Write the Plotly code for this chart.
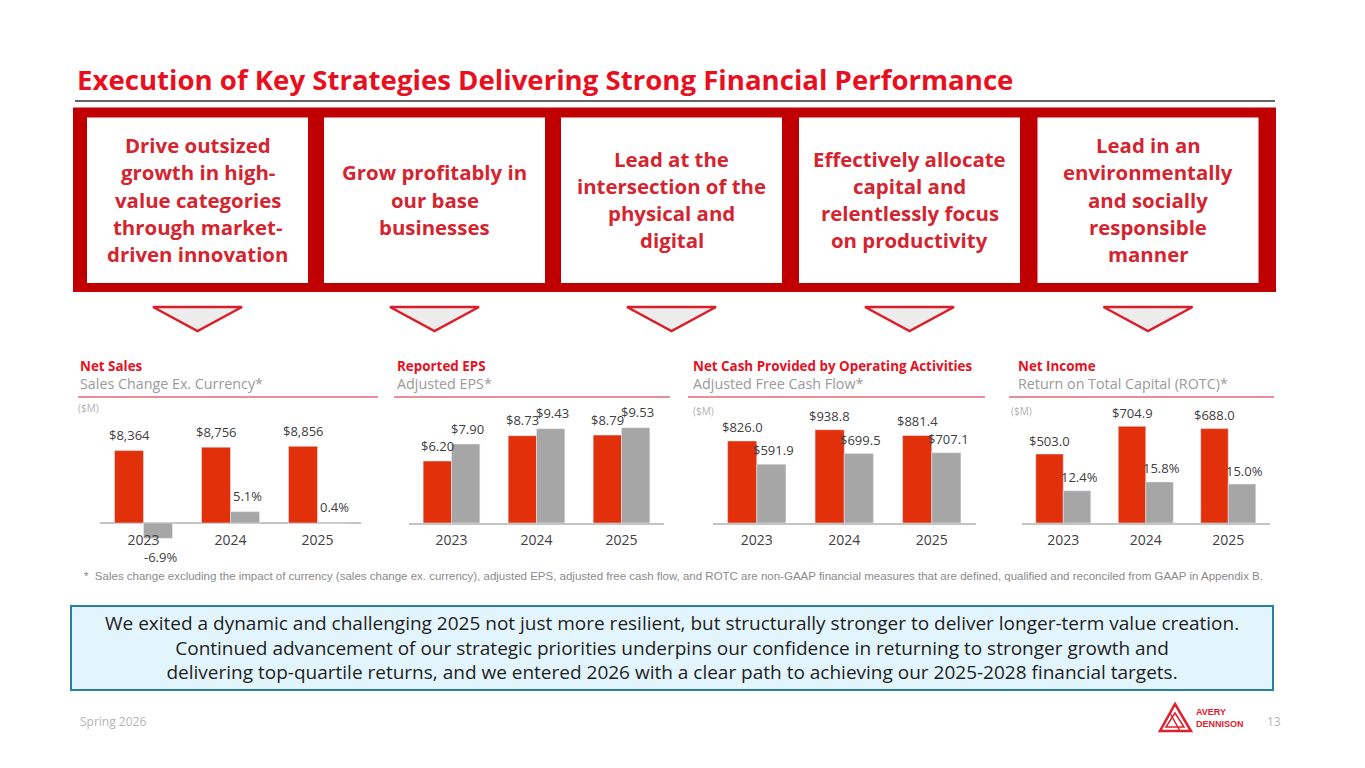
import plotly.graph_objects as go

W, H = 1365, 768
OFF = 8  # page body margin
def X(p): return (p - OFF) / W
def Y(p): return 1 - (p - OFF) / H

# ---------------- data ----------------
years = ["2023", "2024", "2025"]
net_sales = [8364, 8756, 8856]
sales_chg_ex_fx = [-6.9, 5.1, 0.4]
reported_eps = [6.20, 8.73, 8.79]
adjusted_eps = [7.90, 9.43, 9.53]
op_cash = [826.0, 938.8, 881.4]
adj_fcf = [591.9, 699.5, 707.1]
net_income = [503.0, 704.9, 688.0]
rotc = [12.4, 15.8, 15.0]

strategies = [
    ["Drive outsized", "growth in high-", "value categories", "through market-", "driven innovation"],
    ["Grow profitably in", "our base", "businesses"],
    ["Lead at the", "intersection of the", "physical and", "digital"],
    ["Effectively allocate", "capital and", "relentlessly focus", "on productivity"],
    ["Lead in an", "environmentally", "and socially", "responsible", "manner"],
]

title = "Execution of Key Strategies Delivering Strong Financial Performance"
footnote = ("*  Sales change excluding the impact of currency (sales change ex. currency), adjusted EPS, "
            "adjusted free cash flow, and ROTC are non-GAAP financial measures that are defined, "
            "qualified and reconciled from GAAP in Appendix B.")
summary_lines = [
    "We exited a dynamic and challenging 2025 not just more resilient, but structurally stronger to deliver longer-term value creation.",
    "Continued advancement of our strategic priorities underpins our confidence in returning to stronger growth and",
    "delivering top-quartile returns, and we entered 2026 with a clear path to achieving our 2025-2028 financial targets.",
]

# ---------------- styles ----------------
RED_T = "#e8101e"
BAND = "#c00000"
BOX_T = "#d4242f"
BAR_R = "#e2300b"
BAR_G = "#a6a6a6"
LBL = "#404040"
GRAY_T = "#9a9a9a"
SANS = "Open Sans"
ARIAL = "Liberation Sans"

fig = go.Figure()
shapes = []
ann = []

# title + rule
ann.append(dict(x=X(75), y=Y(79), xref="paper", yref="paper", text=f"<b>{title}</b>",
                showarrow=False, xanchor="left", yanchor="middle",
                font=dict(family=SANS, size=27.6, color=RED_T)))
shapes.append(dict(type="line", xref="paper", yref="paper", x0=X(75), x1=X(1275), y0=Y(101), y1=Y(101),
                   line=dict(color="#303030", width=1.5)))

# red band with boxes
shapes.append(dict(type="rect", xref="paper", yref="paper", x0=X(73), x1=X(1276), y0=Y(292), y1=Y(107.5),
                   fillcolor=BAND, line=dict(width=0), layer="below"))
box_left = [87, 324, 561, 799, 1037.5]
box_w = 221
for i, lines in enumerate(strategies):
    x0 = box_left[i]
    shapes.append(dict(type="rect", xref="paper", yref="paper", x0=X(x0), x1=X(x0 + box_w),
                       y0=Y(283), y1=Y(117.5), fillcolor="white", line=dict(width=0), layer="below"))
    n = len(lines)
    for j, ln in enumerate(lines):
        yc = 199.5 + (j - (n - 1) / 2) * 27.3
        ann.append(dict(x=X(x0 + box_w / 2), y=Y(yc), xref="paper", yref="paper", text=f"<b>{ln}</b>",
                        showarrow=False, xanchor="center", yanchor="middle",
                        font=dict(family=SANS, size=20.4, color=BOX_T)))
    # arrow triangle
    cx = x0 + box_w / 2
    tt, tb = 307, 331
    path = f"M {X(cx-44.5)},{Y(tt)} L {X(cx+44.5)},{Y(tt)} L {X(cx)},{Y(tb)} Z"
    shapes.append(dict(type="path", xref="paper", yref="paper", path=path,
                       fillcolor="#ececec", line=dict(color="#d9202a", width=2.5)))

# ---------------- charts ----------------
charts = [
    dict(head="Net Sales", sub="Sales Change Ex. Currency*", hx=78, line=(78, 378), unit=(88, 408),
         red=net_sales, gray=sales_chg_ex_fx, rfmt=lambda v: f"${v:,.0f}", gfmt=lambda v: f"{v:.1f}%",
         dom=(100, 361), ybot=539, rrange=(-16 * 115.5, 113 * 115.5), grange=(-16 * 0.45, 113 * 0.45),
         dual=True, shift=15.5),
    dict(head="Reported EPS", sub="Adjusted EPS*", hx=395, line=(394, 670), unit=None,
         red=reported_eps, gray=adjusted_eps, rfmt=lambda v: f"${v:.2f}", gfmt=lambda v: f"${v:.2f}",
         dom=(409, 664), ybot=523, rrange=(0, 113 * 0.1), grange=None, dual=False, shift=15.5),
    dict(head="Net Cash Provided by Operating Activities", sub="Adjusted Free Cash Flow*", hx=691,
         line=(688, 985), unit=(703, 411),
         red=op_cash, gray=adj_fcf, rfmt=lambda v: f"${v:.1f}", gfmt=lambda v: f"${v:.1f}",
         dom=(713, 975.5), ybot=523, rrange=(0, 113 * 10.07), grange=None, dual=False, shift=14),
    dict(head="Net Income", sub="Return on Total Capital (ROTC)*", hx=1016, line=(1009, 1274), unit=(1021, 411),
         red=net_income, gray=rotc, rfmt=lambda v: f"${v:.1f}", gfmt=lambda v: f"{v:.1f}%",
         dom=(1022, 1269.5), ybot=523, rrange=(0, 113 * 7.29), grange=(0, 113 * 0.385),
         dual=True, shift=13.5),
]

xs = [0, 1, 2]
bw = 1 / 3
yidx = 1
layout_axes = {}
for k, c in enumerate(charts):
    xa = "x" if k == 0 else f"x{k+1}"
    ya = "y" if yidx == 1 else f"y{yidx}"
    ya_name = "yaxis" if yidx == 1 else f"yaxis{yidx}"
    xa_name = "xaxis" if k == 0 else f"xaxis{k+1}"
    ydom = [Y(c["ybot"]), Y(410)]
    layout_axes[xa_name] = dict(domain=[X(c["dom"][0]), X(c["dom"][1])], range=[-0.5, 2.5],
                                anchor=ya, tickvals=xs, ticktext=years, showgrid=False, zeroline=False,
                                showline=(k != 0), linecolor="#c4c4c4", linewidth=2, ticks="",
                                ticklabelstandoff=(-9 if k == 0 else 3),
                                tickfont=dict(family=SANS, size=14, color=LBL), fixedrange=True)
    layout_axes[ya_name] = dict(domain=ydom, range=list(c["rrange"]), anchor=xa, visible=(k == 0),
                                showticklabels=False, showgrid=False, showline=False, ticks="",
                                zeroline=(k == 0), zerolinecolor="#c4c4c4", zerolinewidth=2, fixedrange=True)
    fig.add_trace(go.Bar(x=xs, y=c["red"], width=bw, offset=-bw, marker_color=BAR_R,
                         xaxis=xa, yaxis=ya, showlegend=False, hoverinfo="skip"))
    for i, v in enumerate(c["red"]):
        ann.append(dict(x=i - bw / 2, y=v, xref=xa, yref=ya, text=c["rfmt"](v), showarrow=False,
                        yanchor="middle", yshift=c["shift"], font=dict(family=SANS, size=13, color=LBL)))
    if c["dual"]:
        gy = f"y{yidx+1}"
        layout_axes[f"yaxis{yidx+1}"] = dict(domain=ydom, range=list(c["grange"]), anchor=xa, overlaying=ya,
                                             visible=False, showgrid=False, zeroline=False, fixedrange=True)
        yidx += 2
    else:
        gy = ya
        yidx += 1
    fig.add_trace(go.Bar(x=xs, y=c["gray"], width=bw, offset=0, marker_color=BAR_G,
                         xaxis=xa, yaxis=gy, showlegend=False, hoverinfo="skip"))
    for i, v in enumerate(c["gray"]):
        ann.append(dict(x=i + bw / 2, y=v, xref=xa, yref=gy, text=c["gfmt"](v), showarrow=False,
                        xshift=2, yanchor="middle", yshift=(c["shift"] if v >= 0 else -c["shift"] - 3),
                        font=dict(family=SANS, size=13, color=LBL)))
    # headers
    ann.append(dict(x=X(c["hx"]), y=Y(366), xref="paper", yref="paper", text=f"<b>{c['head']}</b>",
                    showarrow=False, xanchor="left", yanchor="middle", font=dict(family=SANS, size=13.4, color=RED_T)))
    ann.append(dict(x=X(c["hx"]), y=Y(383), xref="paper", yref="paper", text=c["sub"],
                    showarrow=False, xanchor="left", yanchor="middle", font=dict(family=SANS, size=14.3, color=GRAY_T)))
    shapes.append(dict(type="line", xref="paper", yref="paper", x0=X(c["line"][0]), x1=X(c["line"][1]),
                       y0=Y(397), y1=Y(397), line=dict(color="#e06c70", width=1.5)))
    if c["unit"]:
        ann.append(dict(x=X(c["unit"][0]), y=Y(c["unit"][1]), xref="paper", yref="paper", text="($M)",
                        showarrow=False, xanchor="center", yanchor="middle",
                        font=dict(family=SANS, size=10, color="#b0b0b0")))

# footnote
ann.append(dict(x=X(82), y=Y(576), xref="paper", yref="paper", text=footnote, showarrow=False,
                xanchor="left", yanchor="middle", font=dict(family=ARIAL, size=11.5, color="#8a8a8a")))

# summary box
shapes.append(dict(type="rect", xref="paper", yref="paper", x0=X(71), x1=X(1273), y0=Y(690), y1=Y(606),
                   fillcolor="#e2f4fc", line=dict(color="#2b7ea6", width=2)))
ann.append(dict(x=X(672), y=Y(647.5), xref="paper", yref="paper", text="<br>".join(summary_lines),
                showarrow=False, xanchor="center", yanchor="middle", align="center",
                font=dict(family=SANS, size=19, color="#1e1e1e")))

# footer
ann.append(dict(x=X(78), y=Y(721), xref="paper", yref="paper", text="Spring 2026", showarrow=False,
                xanchor="left", yanchor="middle", font=dict(family=SANS, size=12, color="#b4b4b4")))
ann.append(dict(x=X(1283), y=Y(721), xref="paper", yref="paper", text="13", showarrow=False,
                xanchor="right", yanchor="middle", font=dict(family=SANS, size=12, color="#b4b4b4")))

# logo (simplified)
LOGO = "#e0202c"
outer = f"M {X(1175)},{Y(704)} L {X(1191)},{Y(731)} L {X(1160)},{Y(731)} Z"
inner = f"M {X(1175)},{Y(713)} L {X(1184)},{Y(727)} L {X(1166)},{Y(727)} Z"
shapes.append(dict(type="path", xref="paper", yref="paper", path=outer, line=dict(color=LOGO, width=2.5)))
shapes.append(dict(type="path", xref="paper", yref="paper", path=inner, line=dict(color=LOGO, width=1.5)))
shapes.append(dict(type="line", xref="paper", yref="paper", x0=X(1170), y0=Y(713), x1=X(1180), y1=Y(731),
                   line=dict(color=LOGO, width=1.5)))
ann.append(dict(x=X(1194), y=Y(712), xref="paper", yref="paper", text="<b>AVERY</b>", showarrow=False,
                xanchor="left", yanchor="middle", font=dict(family=ARIAL, size=9, color=LOGO)))
ann.append(dict(x=X(1194), y=Y(724), xref="paper", yref="paper", text="<b>DENNISON</b>", showarrow=False,
                xanchor="left", yanchor="middle", font=dict(family=ARIAL, size=9, color=LOGO)))

fig.update_layout(width=W, height=H, margin=dict(l=0, r=0, t=0, b=0), paper_bgcolor="white",
                  plot_bgcolor="rgba(0,0,0,0)", shapes=shapes, annotations=ann, barmode="overlay",
                  **layout_axes)
fig.write_html("out.html", config={"displayModeBar": False})
